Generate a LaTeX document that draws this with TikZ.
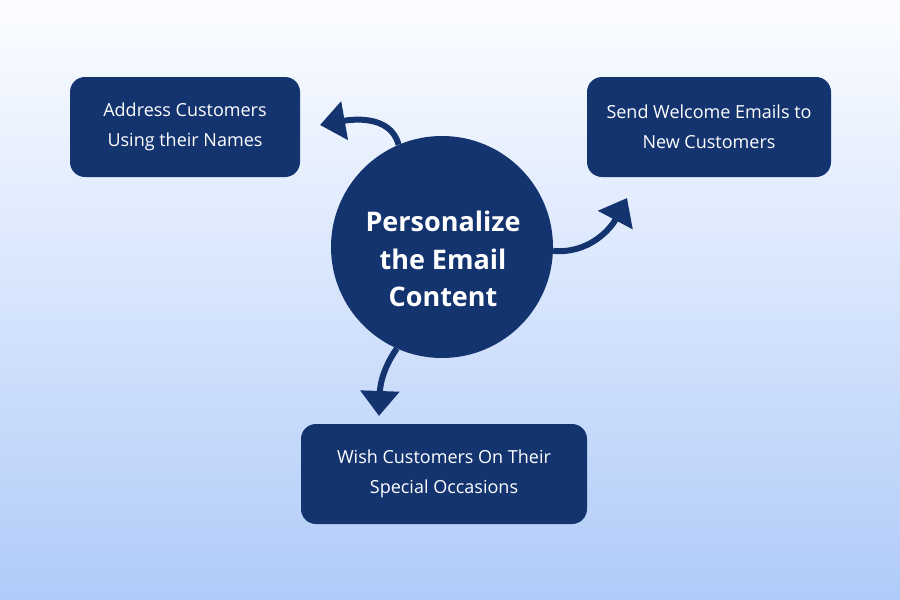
\documentclass[tikz,border=0pt]{standalone}
\usepackage{fontspec}
\setmainfont{Open Sans}
\usetikzlibrary{arrows.meta}
\definecolor{navy}{RGB}{20,52,112}
\definecolor{skytop}{RGB}{252,253,255}
\definecolor{skybottom}{RGB}{176,203,249}
\begin{document}
\begin{tikzpicture}[x=1pt,y=-1pt,
  tipbox/.style={fill=navy,rounded corners=15pt,text=white,align=center,
    font=\fontsize{18}{30}\selectfont,inner sep=0pt},
  hub/.style={circle,fill=navy,minimum size=222pt,inner sep=0pt},
  hubtext/.style={text=white,align=center,
    font=\fontsize{27}{37.5}\selectfont\bfseries,inner sep=0pt},
  flow/.style={draw=navy,line width=6pt,-{Triangle[length=25pt,width=38pt]}}]
\shade[top color=skytop,bottom color=skybottom] (0,0) rectangle (900,600);

\node[hub] (email) at (442,247) {};
\node[hubtext] (emailtext) at (443,259) {Personalize\\the Email\\Content};

\node[tipbox,minimum width=230pt,minimum height=100pt] (names) at (185,127) {Address Customers\\Using their Names};
\node[tipbox,minimum width=244pt,minimum height=100pt] (welcome) at (709,127) {Send Welcome Emails to\\New Customers};
\node[tipbox,minimum width=286pt,minimum height=100pt] (occasions) at (444,474) {Wish Customers On Their\\Special Occasions};

\coordinate (tipa) at (320,125);
\coordinate (tipb) at (627,198);
\coordinate (tipc) at (379,416);

\draw[flow] (email.113) to[out=105,in=10] (tipa);
\draw[flow] (email.-2) to[out=-5,in=-118] (tipb);
\draw[flow] (email.246) to[out=235,in=88] (tipc);
\end{tikzpicture}
\end{document}
